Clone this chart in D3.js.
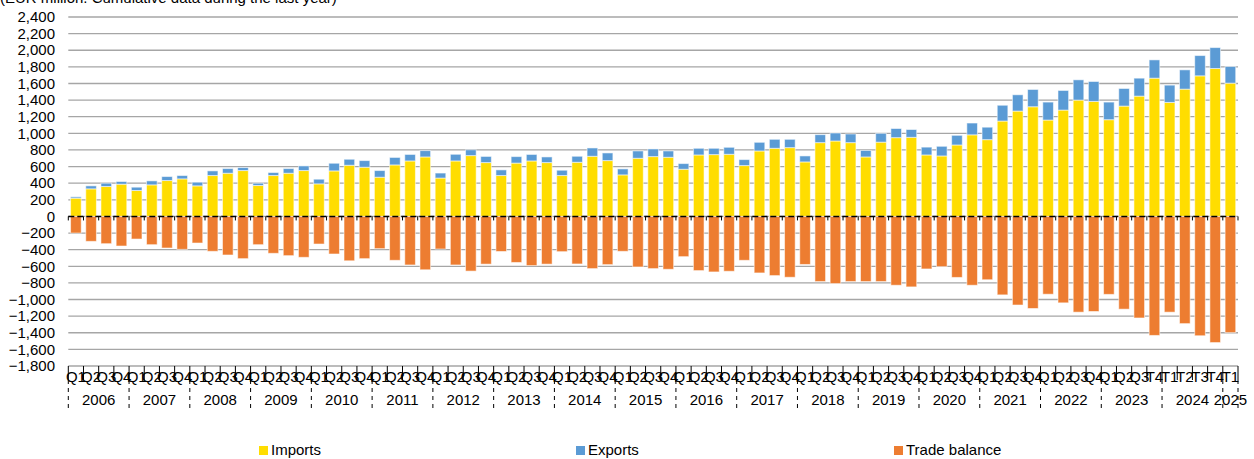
<!DOCTYPE html>
<html>
<head>
<meta charset="utf-8">
<script src="https://cdn.jsdelivr.net/npm/d3@7"></script>
<style>
  body { margin: 0; background: #fff; }
  text { font-family: "Liberation Sans", Arial, sans-serif; fill: #000; }
</style>
</head>
<body>
<svg id="chart" width="1254" height="459"></svg>
<script>
// chart data (EUR million)
var years = ['2006', '2007', '2008', '2009', '2010', '2011', '2012', '2013', '2014', '2015',
  '2016', '2017', '2018', '2019', '2020', '2021', '2022', '2023', '2024', '2025'];

// quarter labels, in order (2023 Q4 onwards is labelled T)
var quarterLabels = [];
years.forEach(function(y) {
  var q = ['Q1', 'Q2', 'Q3', 'Q4'];
  if (y === '2023') q = ['Q1', 'Q2', 'Q3', 'T4'];
  if (y === '2024') q = ['T1', 'T2', 'T3', 'T4'];
  if (y === '2025') q = ['T1'];
  q.forEach(function(l) { quarterLabels.push(l); });
});

var imports = [
  220, 332, 360, 388, 312, 380, 432, 452, 368, 492, 520, 552,
  372, 492, 520, 552, 392, 548, 616, 592, 472, 620, 668, 716,
  462, 668, 732, 648, 492, 642, 668, 648, 492, 652, 724, 672,
  500, 700, 720, 712, 568, 740, 744, 748, 612, 788, 820, 828,
  656, 888, 908, 888, 716, 894, 948, 952, 740, 728, 860, 982,
  924, 1148, 1268, 1320, 1160, 1280, 1400, 1384, 1164, 1328, 1448, 1664,
  1372, 1532, 1692, 1780, 1604
];
var exports = [
  16, 36, 40, 32, 40, 48, 48, 40, 44, 56, 56, 36,
  28, 36, 56, 56, 56, 92, 72, 80, 80, 90, 78, 76,
  60, 80, 70, 74, 68, 78, 78, 68, 64, 72, 100, 92,
  72, 88, 92, 76, 68, 80, 76, 84, 72, 104, 108, 100,
  72, 96, 96, 104, 78, 106, 110, 94, 94, 116, 116, 142,
  150, 190, 196, 208, 216, 236, 244, 240, 212, 212, 216, 220,
  208, 232, 244, 252, 200
];
var tradeBalance = [
  -200, -300, -328, -356, -272, -340, -380, -396, -320, -420, -464, -508,
  -340, -444, -472, -492, -332, -452, -534, -508, -388, -528, -584, -642,
  -392, -584, -658, -574, -422, -554, -592, -574, -424, -572, -628, -580,
  -420, -608, -628, -636, -484, -652, -668, -660, -528, -680, -712, -732,
  -578, -784, -808, -784, -784, -784, -828, -848, -632, -604, -734, -828,
  -762, -944, -1066, -1108, -936, -1040, -1152, -1144, -938, -1116, -1222, -1432,
  -1152, -1290, -1436, -1518, -1398
];

var yTicks = d3.range(-1800, 2401, 200);

var colors = { imports: '#ffdd00', exports: '#5b9bd5', balance: '#ed7d31' };

var svg = d3.select('#chart');
var plotLeft = 68.3, plotRight = 1238, plotTop = 17, plotBottom = 366;

var idx = d3.range(quarterLabels.length);
var x = d3.scaleBand().domain(idx).range([plotLeft, plotRight]).paddingInner(0.3).paddingOuter(0.15);
var step = x.step();
var y = d3.scaleLinear().domain([-1800, 2400]).range([plotBottom, plotTop]);

// title (cut off at the top of the picture)
svg.append('text')
  .attr('x', 0)
  .attr('y', 2.5)
  .style('font-size', '15px')
  .text('(EUR million. Cumulative data during the last year)');

// gridlines
svg.append('g')
  .selectAll('line')
  .data(yTicks)
  .join('line')
  .attr('x1', plotLeft)
  .attr('x2', plotRight)
  .attr('y1', function(d) { return y(d); })
  .attr('y2', function(d) { return y(d); })
  .attr('stroke', '#a6a6a6')
  .attr('stroke-width', 1.3);

// y axis labels
svg.append('g')
  .selectAll('text')
  .data(yTicks)
  .join('text')
  .attr('x', 55)
  .attr('y', function(d) { return y(d); })
  .attr('dy', '0.35em')
  .attr('text-anchor', 'end')
  .style('font-size', '15px')
  .text(function(d) { return d3.format(',')(d); });

// bars
var bars = svg.append('g');
var bw = x.bandwidth();

bars.selectAll('.imp')
  .data(idx)
  .join('rect')
  .attr('class', 'imp')
  .attr('x', function(i) { return x(i); })
  .attr('width', bw)
  .attr('y', function(i) { return y(imports[i]); })
  .attr('height', function(i) { return y(0) - y(imports[i]); })
  .attr('fill', colors.imports);

bars.selectAll('.exp')
  .data(idx)
  .join('rect')
  .attr('class', 'exp')
  .attr('x', function(i) { return x(i); })
  .attr('width', bw)
  .attr('y', function(i) { return y(imports[i] + exports[i]); })
  .attr('height', function(i) { return y(imports[i]) - y(imports[i] + exports[i]); })
  .attr('fill', colors.exports);

bars.selectAll('.bal')
  .data(idx)
  .join('rect')
  .attr('class', 'bal')
  .attr('x', function(i) { return x(i); })
  .attr('width', bw)
  .attr('y', y(0))
  .attr('height', function(i) { return y(tradeBalance[i]) - y(0); })
  .attr('fill', colors.balance);

bars.selectAll('rect')
  .attr('stroke', '#ffffff')
  .attr('stroke-opacity', 0.55)
  .attr('stroke-width', 1);

// zero line, dashed, with small ticks between the quarters
var boundaries = d3.range(quarterLabels.length + 1).map(function(i) { return plotLeft + i * step; });

svg.append('line')
  .attr('x1', plotLeft)
  .attr('x2', plotRight)
  .attr('y1', y(0))
  .attr('y2', y(0))
  .attr('stroke', '#000')
  .attr('stroke-width', 1.5)
  .attr('stroke-dasharray', '6,3');

svg.append('g')
  .selectAll('line')
  .data(boundaries)
  .join('line')
  .attr('x1', function(d) { return d; })
  .attr('x2', function(d) { return d; })
  .attr('y1', y(0))
  .attr('y2', y(0) + 4)
  .attr('stroke', '#000')
  .attr('stroke-width', 1);

// bottom category ticks
svg.append('g')
  .selectAll('line')
  .data(boundaries)
  .join('line')
  .attr('x1', function(d) { return d; })
  .attr('x2', function(d) { return d; })
  .attr('y1', plotBottom)
  .attr('y2', plotBottom + 14)
  .attr('stroke', '#000')
  .attr('stroke-width', 1);

// quarter labels
svg.append('g')
  .selectAll('text')
  .data(idx)
  .join('text')
  .attr('x', function(i) { return x(i) + bw / 2; })
  .attr('y', 382)
  .attr('text-anchor', 'middle')
  .style('font-size', '15px')
  .text(function(i) { return quarterLabels[i]; });

// year separators and labels
var yearStart = [];
var k = 0;
years.forEach(function(yr) {
  var n = yr === '2025' ? 1 : 4;
  yearStart.push({ year: yr, start: k, n: n });
  k += n;
});

var sepPos = yearStart.map(function(d) { return plotLeft + d.start * step; });
sepPos.push(plotRight);

svg.append('g')
  .selectAll('line')
  .data(sepPos)
  .join('line')
  .attr('x1', function(d) { return d; })
  .attr('x2', function(d) { return d; })
  .attr('y1', 380)
  .attr('y2', 408)
  .attr('stroke', '#000')
  .attr('stroke-width', 1)
  .attr('stroke-dasharray', '4,4');

svg.append('g')
  .selectAll('text')
  .data(yearStart)
  .join('text')
  .attr('x', function(d) { return plotLeft + (d.start + d.n / 2) * step; })
  .attr('y', 405)
  .attr('text-anchor', 'middle')
  .style('font-size', '15px')
  .text(function(d) { return d.year; });

// legend
var legend = [
  { name: 'Imports', color: colors.imports, x: 259 },
  { name: 'Exports', color: colors.exports, x: 576 },
  { name: 'Trade balance', color: colors.balance, x: 894 }
];

var lg = svg.append('g')
  .selectAll('g')
  .data(legend)
  .join('g')
  .attr('transform', function(d) { return 'translate(' + d.x + ',446)'; });

lg.append('rect')
  .attr('width', 9)
  .attr('height', 9)
  .attr('fill', function(d) { return d.color; });

lg.append('text')
  .attr('x', 12)
  .attr('y', 9)
  .style('font-size', '15px')
  .text(function(d) { return d.name; });
</script>
</body>
</html>
